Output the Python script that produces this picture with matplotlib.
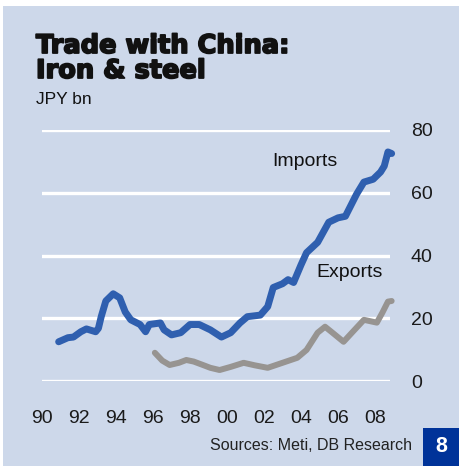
import matplotlib
matplotlib.use('Agg')
import matplotlib.pyplot as plt
import matplotlib.patheffects as pe
from matplotlib.patches import Rectangle

# Japan's iron & steel trade with China, JPY bn
imp_years = [1990.9, 1991.4, 1991.7, 1992.1, 1992.4, 1992.9, 1993.05, 1993.2, 1993.45, 1993.85,
             1994.2, 1994.5, 1994.8, 1995.3, 1995.6, 1995.8, 1996.4, 1996.6, 1997.0, 1997.5,
             1998.0, 1998.5, 1999.1, 1999.7, 2000.2, 2000.7, 2001.1, 2001.8, 2002.2, 2002.5,
             2003.0, 2003.3, 2003.6, 2004.0, 2004.3, 2004.9, 2005.5, 2006.0, 2006.4, 2007.0,
             2007.4, 2007.9, 2008.3, 2008.5, 2008.7, 2008.9]
imports = [12.5, 13.8, 14.0, 15.7, 16.6, 15.7, 16.8, 20.5, 25.5, 27.8,
           26.5, 22.0, 19.5, 18.0, 15.7, 18.0, 18.5, 16.3, 14.7, 15.4,
           18.0, 18.0, 16.3, 14.0, 15.4, 18.5, 20.5, 21.0, 23.7, 29.8,
           31.0, 32.3, 31.4, 37.0, 40.9, 44.2, 50.6, 52.0, 52.5, 59.5,
           63.4, 64.3, 66.6, 68.5, 73.0, 72.5]

exp_years = [1996.1, 1996.5, 1996.9, 1997.4, 1997.8, 1998.2, 1998.7, 1999.1, 1999.6, 2000.2,
             2000.9, 2001.5, 2002.2, 2003.0, 2003.8, 2004.3, 2004.9, 2005.3, 2005.7, 2006.3,
             2006.8, 2007.4, 2008.1, 2008.4, 2008.7, 2008.9]
exports = [9.0, 6.5, 5.1, 5.8, 6.7, 6.2, 5.1, 4.2, 3.5, 4.5,
           5.8, 5.0, 4.2, 5.8, 7.4, 9.9, 15.4, 17.3, 15.4, 12.5,
           15.7, 19.5, 18.6, 21.8, 25.3, 25.5]

x_ticks = list(range(1990, 2009, 2))
x_labels = ['90', '92', '94', '96', '98', '00', '02', '04', '06', '08']
y_ticks = [0, 20, 40, 60, 80]

bg = '#cdd8ea'
blue = '#2f5faf'
grey = '#979491'

plt.rcParams['font.family'] = ['Liberation Sans', 'DejaVu Sans']

W, H = 459, 466
fig = plt.figure(figsize=(W / 100, H / 100), dpi=100)
fig.patch.set_facecolor('white')
fig.patches.append(Rectangle((3 / W, 0), 1, 1 - 6 / H, transform=fig.transFigure,
                             facecolor=bg, edgecolor='none', zorder=-5))

ax = fig.add_axes([42 / W, (H - 381) / H, 348 / W, 251 / H])
ax.patch.set_alpha(0)
for s in ax.spines.values():
    s.set_visible(False)

ax.set_xlim(1990, 1990 + 348 / 18.5)
ax.set_ylim(0, 80)
ax.set_yticks(y_ticks)
ax.yaxis.tick_right()
ax.set_xticks(x_ticks)
ax.set_xticklabels(x_labels)
ax.tick_params(length=0, labelsize=14, colors='#1a1a1a')
ax.tick_params(axis='y', pad=15)
ax.tick_params(axis='x', pad=21)
ax.grid(axis='y', color='white', linewidth=2.4)
ax.set_axisbelow(True)

ax.plot(exp_years, exports, color=grey, linewidth=4.3, solid_capstyle='round',
        solid_joinstyle='round', clip_on=False)
ax.plot(imp_years, imports, color=blue, linewidth=5.0, solid_capstyle='round',
        solid_joinstyle='round', clip_on=False)

ax.text(2004.2, 70.0, 'Imports', fontsize=14, color='#111111', ha='center', va='center')
ax.text(2006.6, 34.5, 'Exports', fontsize=14, color='#111111', ha='center', va='center')

# heavy headline: bold DejaVu with an outline stroke
heavy = [pe.withStroke(linewidth=1.3, foreground='#111111')]
fig.text(36 / W, 1 - 53 / H, 'Trade with China:', fontsize=18.5, fontweight='bold',
         family='DejaVu Sans', color='#111111', va='baseline', path_effects=heavy)
fig.text(36 / W, 1 - 78 / H, 'Iron & steel', fontsize=18.5, fontweight='bold',
         family='DejaVu Sans', color='#111111', va='baseline', path_effects=heavy)
fig.text(36 / W, 1 - 104 / H, 'JPY bn', fontsize=12.5, color='#111111', va='baseline')

fig.text(412 / W, 1 - 446 / H, 'Sources: Meti, DB Research', fontsize=11.5,
         color='#222222', ha='right', va='center')
fig.patches.append(Rectangle((423 / W, 0), 36 / W, 38 / H, transform=fig.transFigure,
                             facecolor='#003399', edgecolor='none'))
fig.text(441 / W, 19 / H, '8', fontsize=15.5, fontweight='bold', color='white',
         ha='center', va='center')

fig.savefig('out.png', dpi=100, facecolor=fig.get_facecolor())
